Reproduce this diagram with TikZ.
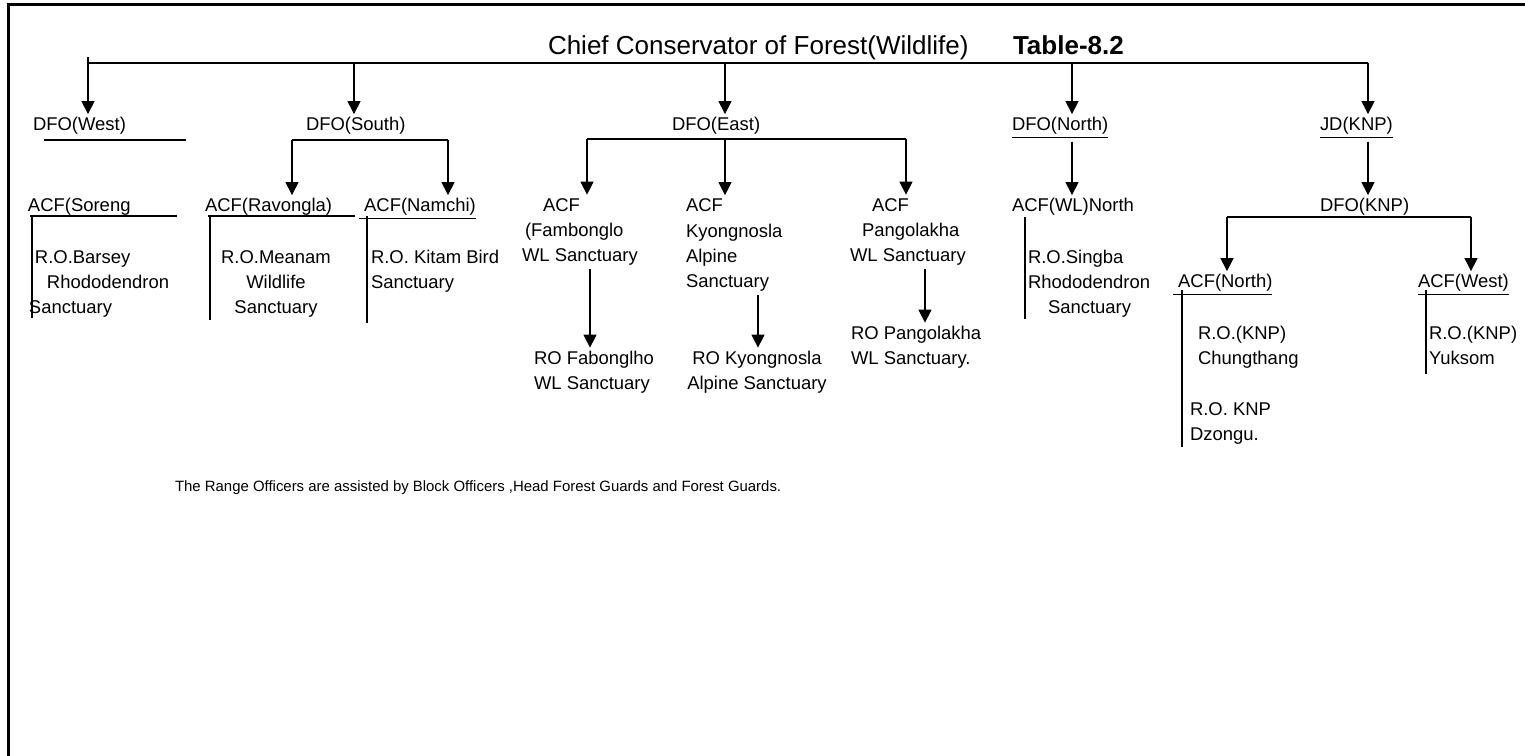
\documentclass[tikz,border=0pt]{standalone}
\usepackage{fontspec}
\setmainfont{Liberation Sans}
\usetikzlibrary{arrows.meta}

\begin{document}
\begin{tikzpicture}[x=0.02cm,y=-0.02cm,line width=0.6pt,
        lbl/.style={inner sep=0,outer xsep=0,outer ysep=2pt,anchor=base west,align=left,font=\fontsize{10.5}{14.5}\selectfont},
        ttl/.style={lbl,font=\fontsize{14.8}{18}\selectfont},
        arr/.style={-{Triangle[length=0.26cm,width=0.26cm]}}
      ]
      \useasboundingbox (0,0) rectangle (1525,756);
      % frame
      \draw[line width=0.06cm] (8.5,756) -- (8.5,4.5) -- (1525,4.5);
      % heading
      \node[ttl] (ccf) at (548,55) {Chief Conservator of Forest(Wildlife)};
      \node[ttl] (tab) at (1013,55) {\bfseries Table-8.2};
      % divisions
      \node[lbl] (dfow) at (33,131) {DFO(West)};
      \node[lbl] (dfos) at (306,131) {DFO(South)};
      \node[lbl] (dfoe) at (672,131) {DFO(East)};
      \node[lbl] (dfon) at (1012,131) {\underline{DFO(North)}};
      \node[lbl] (jdknp) at (1320,131) {\underline{JD(KNP)}};
      % sub divisions (multi-line nodes sit on their last line)
      \node[lbl] (acfs) at (28,212) {ACF(Soreng};
      \node[lbl] (acfr) at (205,212) {ACF(Ravongla)};
      \node[lbl] (acfn) at (359,212) {\underline{\ ACF(Namchi)}};
      \node[lbl] (acff) at (522,262) {\hspace*{0.42cm}ACF\\\hspace*{0.06cm}(Fambonglo\\WL Sanctuary};
      \node[lbl] (acfk) at (686,288) {ACF\\Kyongnosla\\Alpine\\Sanctuary};
      \node[lbl] (acfp) at (850,262) {\hspace*{0.44cm}ACF\\\hspace*{0.24cm}Pangolakha\\WL Sanctuary};
      \node[lbl] (acfwl) at (1012,212) {ACF(WL)North};
      \node[lbl] (dfoknp) at (1320,212) {DFO(KNP)};
      \node[lbl] (acfno) at (1173,288) {\underline{\ ACF(North)}};
      \node[lbl] (acfwe) at (1418,288) {\underline{ACF(West)}};
      % ranges
      \node[lbl] (robar) at (29,314) {\hspace*{0.12cm}R.O.Barsey\\\hspace*{0.36cm}Rhododendron\\Sanctuary};
      \node[lbl,anchor=base,align=center] (romea) at (276,314) {R.O.Meanam\\Wildlife\\Sanctuary};
      \node[lbl] (rokit) at (371,289) {R.O. Kitam Bird\\Sanctuary};
      \node[lbl] (rofab) at (534,390) {RO Fabonglho\\WL Sanctuary};
      \node[lbl,anchor=base,align=center] (rokyo) at (757,390) {RO Kyongnosla\\Alpine Sanctuary};
      \node[lbl] (ropan) at (851,365) {RO Pangolakha\\WL Sanctuary.};
      \node[lbl] (rosin) at (1028,314) {R.O.Singba\\Rhododendron\\\hspace*{0.4cm}Sanctuary};
      \node[lbl] (rochu) at (1198,365) {R.O.(KNP)\\Chungthang};
      \node[lbl] (rodzo) at (1190,441) {R.O. KNP\\Dzongu.};
      \node[lbl] (royuk) at (1429,365) {R.O.(KNP)\\Yuksom};
      % note
      \node[lbl,font=\fontsize{8.5}{10}\selectfont] (note) at (175,492) {The Range Officers are assisted by Block Officers ,Head Forest Guards and Forest Guards.};
      % Connections.
      \coordinate (tw) at (88,63);
      \coordinate (ts) at (354,63);
      \coordinate (te) at (725,63);
      \coordinate (tn) at (1072,63);
      \coordinate (tk) at (1368,63);
      \draw (tw) -- (tk);
      \draw (tw) -- ++(0,-6);
      \draw[arr] (tw) -- (tw |- dfow.north);
      \draw[arr] (ts) -- (ts |- dfos.north);
      \draw[arr] (te) -- (te |- dfoe.north);
      \draw[arr] (tn) -- (tn |- dfon.north);
      \draw[arr] (tk) -- (tk |- jdknp.north);
      \draw (44,140) -- (186,140);
      % south
      \coordinate (sl) at (292,140);
      \coordinate (sr) at (448,140);
      \draw (sl) -- (sr);
      \draw[arr] (sl) -- (sl |- acfr.north);
      \draw[arr] (sr) -- (sr |- acfn.north);
      % east
      \coordinate (el) at (587,139);
      \coordinate (em) at (725,139);
      \coordinate (er) at (906,139);
      \draw (el) -- (er);
      \draw[arr] (el) -- (el |- acff.north);
      \draw[arr] (em) -- (em |- acfk.north);
      \draw[arr] (er) -- (er |- acfp.north);
      \coordinate (fk) at (590,0);
      \coordinate (kk) at (758,0);
      \coordinate (pk) at (925,0);
      \draw[arr] (acff.south -| fk) -- (fk |- rofab.north);
      \draw[arr] (acfk.south -| kk) -- (kk |- rokyo.north);
      \draw[arr] (acfp.south -| pk) -- (pk |- ropan.north);
      % north and knp
      \draw[arr] (dfon.south -| tn) -- (tn |- acfwl.north);
      \draw[arr] (jdknp.south -| tk) -- (tk |- dfoknp.north);
      \coordinate (kl) at (1227,217);
      \coordinate (kr) at (1471,217);
      \draw (kl) -- (kr);
      \draw[arr] (kl) -- (kl |- acfno.north);
      \draw[arr] (kr) -- (kr |- acfwe.north);
      % range lines
      \draw (30,216) -- (177,216);
      \draw (208,216) -- (355,216);
      \draw (32,216) -- (32,318);
      \draw (210,216) -- (210,320);
      \draw (367,216) -- (367,323);
      \draw (1025,217) -- (1025,319);
      \draw (1182,290) -- (1182,447);
      \draw (1426,290) -- (1426,374);
    \end{tikzpicture}
\end{document}
